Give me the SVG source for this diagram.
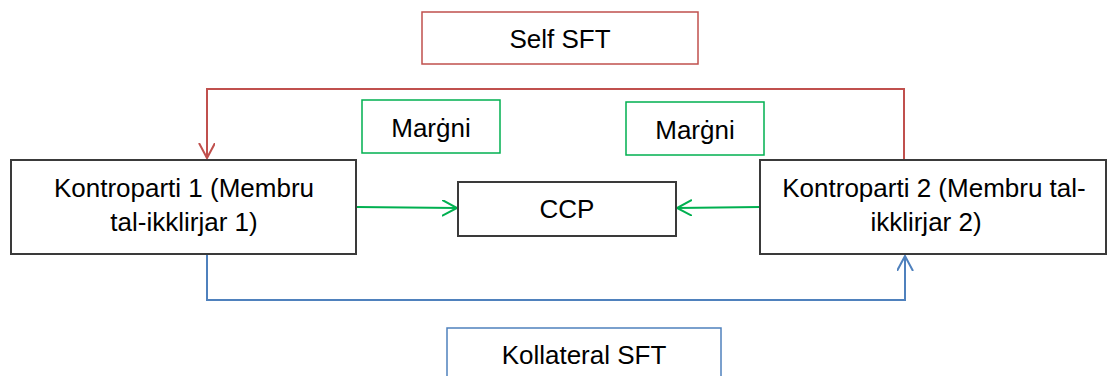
<svg xmlns="http://www.w3.org/2000/svg" width="1107" height="376" viewBox="0 0 1107 376">
<style>
text{font-family:"Liberation Sans",Arial,sans-serif;font-size:26px;fill:#000;text-anchor:middle}
.box{fill:#fff;stroke:#3a3a3a;stroke-width:2}
.red{fill:#fff;stroke:#C0504D;stroke-width:1.5}
.grn{fill:#fff;stroke:#00B050;stroke-width:1.5}
.blu{fill:#fff;stroke:#4F81BD;stroke-width:1.5}
.c{fill:none;stroke-width:2}
</style>
<defs>
<marker id="aR" markerUnits="userSpaceOnUse" markerWidth="20" markerHeight="20" refX="15" refY="8" orient="auto" viewBox="0 0 20 20"><path d="M0,0 L15,8 L0,16" fill="none" stroke="#C0504D" stroke-width="2"/></marker>
<marker id="aG" markerUnits="userSpaceOnUse" markerWidth="20" markerHeight="20" refX="15" refY="8" orient="auto" viewBox="0 0 20 20"><path d="M0,0 L15,8 L0,16" fill="none" stroke="#00B050" stroke-width="2"/></marker>
<marker id="aB" markerUnits="userSpaceOnUse" markerWidth="20" markerHeight="20" refX="15" refY="8" orient="auto" viewBox="0 0 20 20"><path d="M0,0 L15,8 L0,16" fill="none" stroke="#4F81BD" stroke-width="2"/></marker>
</defs>
<g id="connectors">
<path class="c" stroke="#C0504D" d="M904,160 V89 H207 V158" marker-end="url(#aR)"/>
<path class="c" stroke="#4F81BD" d="M207,254 V300 H905 V256" marker-end="url(#aB)"/>
<path class="c" stroke="#00B050" d="M356,207 L457,208" marker-end="url(#aG)"/>
<path class="c" stroke="#00B050" d="M760,207 L677,208" marker-end="url(#aG)"/>
</g>
<g id="selfsft"><rect class="red" x="422" y="12" width="276" height="52"/><text x="560" y="48">Self SFT</text></g>
<g id="margni1"><rect class="grn" x="362" y="100" width="138" height="53"/><text x="431" y="137">Marġni</text></g>
<g id="margni2"><rect class="grn" x="626" y="102" width="138" height="53"/><text x="695" y="139">Marġni</text></g>
<g id="k1"><rect class="box" x="11" y="160" width="345" height="94"/><text x="184" y="197">Kontroparti 1 (Membru</text><text x="184" y="231">tal-ikklirjar 1)</text></g>
<g id="ccp"><rect class="box" x="458" y="182" width="218" height="54"/><text x="567" y="218">CCP</text></g>
<g id="k2"><rect class="box" x="760" y="160" width="346" height="94"/><text x="934" y="197">Kontroparti 2 (Membru tal-</text><text x="926" y="231">ikklirjar 2)</text></g>
<g id="kollateral"><rect class="blu" x="447" y="328" width="274" height="60"/><text x="584" y="364">Kollateral SFT</text></g>
</svg>
